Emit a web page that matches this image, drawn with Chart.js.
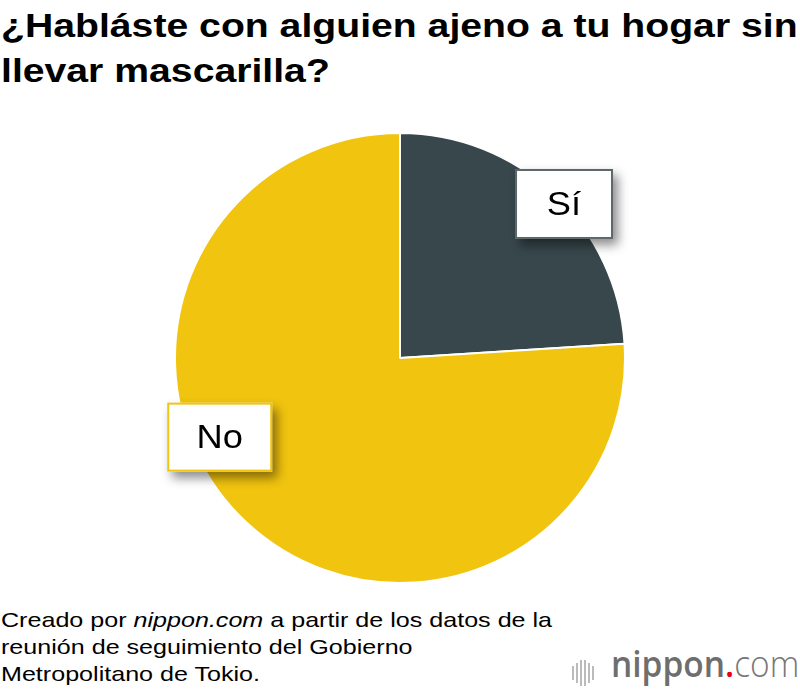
<!DOCTYPE html>
<html>
<head>
<meta charset="utf-8">
<script src="https://cdn.jsdelivr.net/npm/chart.js@4"></script>
<style>
  body { margin: 0; background: #fff; width: 800px; height: 698px; position: relative; overflow: hidden; }
  #title { position: absolute; left: 1px; top: 3px; font: bold 33px "Liberation Sans", Arial, sans-serif; line-height: 45px; color: #000; transform: scaleX(1.187); transform-origin: 0 0; white-space: nowrap; }
  #chart_box { position: absolute; left: 0; top: 132px; width: 800px; height: 452px; }
  #footer { position: absolute; left: 1px; top: 606px; font: 21px "Liberation Sans", Arial, sans-serif; line-height: 27px; color: #000; transform: scaleX(1.195); transform-origin: 0 0; white-space: nowrap; }
  #logo { position: absolute; left: 572px; top: 642px; height: 50px; }
  #logo .bars { position: absolute; left: 0; top: 18px; }
  #logo .bars span { position: absolute; width: 2px; background: #bbb; }
  #logo .word { position: absolute; left: 39px; top: -3px; font-family: "Open Sans", sans-serif; font-size: 36px; white-space: nowrap; color: #6e6e6e; transform: scaleX(0.93); transform-origin: 0 0; }
</style>
</head>
<body>
<div id="title">¿Habláste con alguien ajeno a tu hogar sin<br>llevar mascarilla?</div>
<div id="chart_box"><canvas id="PieChart" width="800" height="452"></canvas></div>
<div id="footer">Creado por <i>nippon.com</i> a partir de los datos de la<br>reunión de seguimiento del Gobierno<br>Metropolitano de Tokio.</div>
<div id="logo">
  <div class="bars">
    <span style="left:0px;top:6px;height:14px"></span>
    <span style="left:4px;top:3px;height:20px"></span>
    <span style="left:8px;top:0px;height:26px"></span>
    <span style="left:12px;top:0px;height:26px"></span>
    <span style="left:16px;top:3px;height:20px"></span>
    <span style="left:20px;top:6px;height:14px"></span>
  </div>
  <div class="word"><span style="font-weight:600">nippon</span><span style="color:#e60012;font-weight:600">.</span><span style="font-weight:300;color:#777">com</span></div>
</div>
<script>
// answers and share (%)
const answers = ['Sí', 'No'];
const shares = [24, 76];
const slice_colors = ['#37474b', '#f1c40f'];
const label_borders = ['#5d6669', '#f1c40f'];

// where each label box sits: angle (deg, clockwise from top) and fraction of radius
const label_spots = [
    {angle: 46.8, r: 1.0, w: 98, h: 70},
    {angle: 246.3, r: 0.875, w: 105, h: 69}
];

const label_boxes = {
    id: 'label_boxes',
    afterDatasetsDraw(chart){
        const ctx = chart.ctx;
        const arcs = chart.getDatasetMeta(0).data;
        arcs.forEach((arc, i) => {
            const spot = label_spots[i];
            const a = spot.angle * Math.PI / 180;
            const cx = arc.x + Math.sin(a) * arc.outerRadius * spot.r;
            const cy = arc.y - Math.cos(a) * arc.outerRadius * spot.r;
            const x = cx - spot.w / 2;
            const y = cy - spot.h / 2;
            ctx.save();
            ctx.shadowColor = 'rgba(0,0,0,0.45)';
            ctx.shadowBlur = 10;
            ctx.shadowOffsetX = 5;
            ctx.shadowOffsetY = 6;
            ctx.fillStyle = '#fff';
            ctx.fillRect(x, y, spot.w, spot.h);
            ctx.restore();
            ctx.save();
            ctx.strokeStyle = label_borders[i];
            ctx.lineWidth = 2;
            ctx.strokeRect(x + 1, y + 1, spot.w - 2, spot.h - 2);
            ctx.fillStyle = '#000';
            ctx.font = '33px "Liberation Sans", Arial, sans-serif';
            ctx.textAlign = 'center';
            ctx.textBaseline = 'middle';
            ctx.translate(cx, cy + 2);
            ctx.scale(1.1, 1);
            ctx.fillText(answers[i], 0, 0);
            ctx.restore();
        });
    }
};

const ctx = document.getElementById('PieChart').getContext('2d');
const chart = new Chart(ctx, {
    type: 'pie',
    data: {
        labels: answers,
        datasets: [
            {
                data: shares,
                backgroundColor: slice_colors,
                borderColor: '#fff',
                borderWidth: 2
            }
        ]
    },
    options: {
        responsive: false,
        animation: false,
        layout: {padding: 0},
        plugins: {
            legend: {display: false},
            tooltip: {enabled: false}
        }
    },
    plugins: [label_boxes]
});
</script>
</body>
</html>
